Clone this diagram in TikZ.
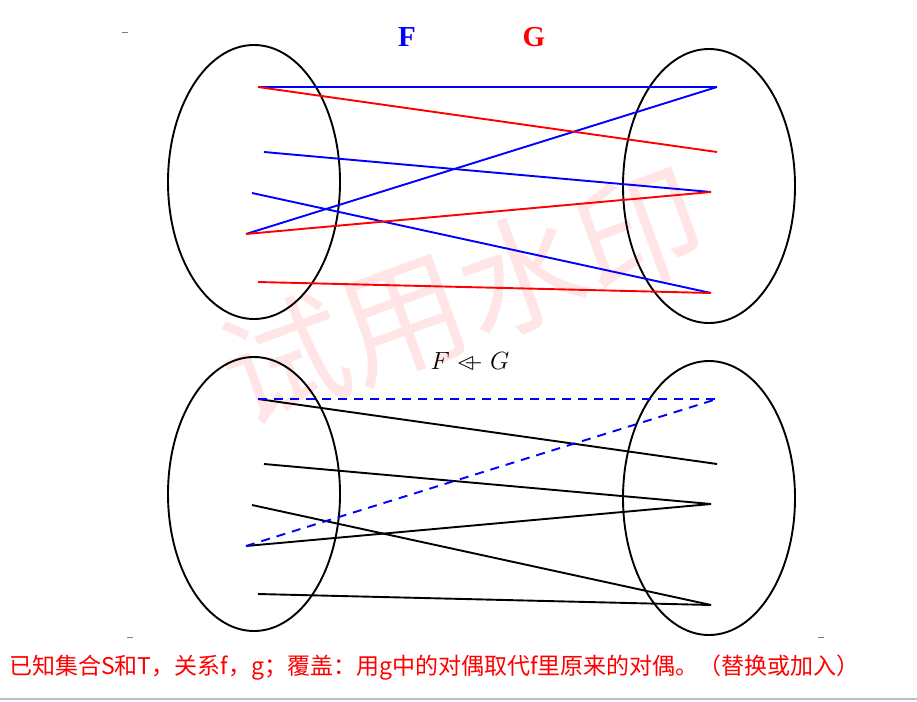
\documentclass[tikz,border=0pt]{standalone}
\usepackage{amssymb}
\usepackage{fontspec}
\setmainfont{Latin Modern Roman}
\newfontfamily\cjk{Noto Sans CJK SC}
\newfontfamily\timesfont{Liberation Serif}
\usetikzlibrary{shapes.geometric}
\begin{document}
\begin{tikzpicture}[x=1pt,y=-1pt,
  setbox/.style={draw=black,line width=1.9pt,ellipse,minimum width=172pt,minimum height=274pt,inner sep=0pt},
  fline/.style={blue,line width=1.9pt},
  gline/.style={red,line width=1.9pt},
  kline/.style={black,line width=1.9pt},
  dline/.style={blue,line width=1.9pt,dash pattern=on 9pt off 7pt},
  tick/.style={gray,line width=1pt}]
\useasboundingbox (0,0) rectangle (917,701);
% watermark
\node[text=red!10,rotate=20,font=\cjk\fontsize{126}{126}\selectfont] (wm) at (462,296) {试用水印};
% top diagram
\node[setbox] (S1) at (254,182) {};
\node[setbox] (T1) at (709,186) {};
\coordinate (a1) at (258,87);
\coordinate (a2) at (264,152);
\coordinate (a3) at (252,193);
\coordinate (a4) at (246,234);
\coordinate (a5) at (258,282);
\coordinate (b1) at (717,87);
\coordinate (b2) at (717,152);
\coordinate (b3) at (711,192);
\coordinate (b4) at (711,293);
\draw[fline] (a1) -- (b1);
\draw[fline] (a4) -- (b1);
\draw[fline] (a2) -- (b3);
\draw[fline] (a3) -- (b4);
\draw[gline] (a1) -- (b2);
\draw[gline] (a4) -- (b3);
\draw[gline] (a5) -- (b4);
\node[text=blue,font=\timesfont\bfseries\fontsize{29}{29}\selectfont] (F) at (407,37) {F};
\node[text=red,font=\timesfont\bfseries\fontsize{29}{29}\selectfont] (G) at (534,37) {G};
% middle label
\node[font=\fontsize{24}{24}\selectfont] (rel) at (470,362) {$F \mathrel{\ooalign{$\vartriangleleft$\cr\kern0.3em$-$\cr}} G$};
% bottom diagram
\node[setbox] (S2) at (254,494) {};
\node[setbox] (T2) at (709,498) {};
\coordinate (c1) at (258,399);
\coordinate (c2) at (264,464);
\coordinate (c3) at (252,505);
\coordinate (c4) at (246,546);
\coordinate (c5) at (258,594);
\coordinate (d1) at (717,399);
\coordinate (d2) at (717,464);
\coordinate (d3) at (711,504);
\coordinate (d4) at (711,605);
\draw[kline] (c1) -- (d2);
\draw[kline] (c2) -- (d3);
\draw[kline] (c4) -- (d3);
\draw[kline] (c3) -- (d4);
\draw[kline] (c5) -- (d4);
\draw[dline] (c1) -- (d1);
\draw[dline] (c4) -- (d1);
% small tick marks
\coordinate (t1) at (122,33); \coordinate (t2) at (128,33);
\coordinate (t3) at (127,637); \coordinate (t4) at (133,637);
\coordinate (t5) at (818,637); \coordinate (t6) at (824,637);
\draw[tick] (t1) -- (t2);
\draw[tick] (t3) -- (t4);
\draw[tick] (t5) -- (t6);
% caption
\node[anchor=west,text=red,inner sep=0pt,font=\cjk\fontsize{23}{26}\selectfont] (cap) at (9,668) {已知集合S和T，关系f，g；覆盖：用g中的对偶取代f里原来的对偶。（替换或加入）};
% bottom rule
\coordinate (r1) at (0,699); \coordinate (r2) at (917,699);
\draw[gray!50,line width=2pt] (r1) -- (r2);
\end{tikzpicture}
\end{document}
